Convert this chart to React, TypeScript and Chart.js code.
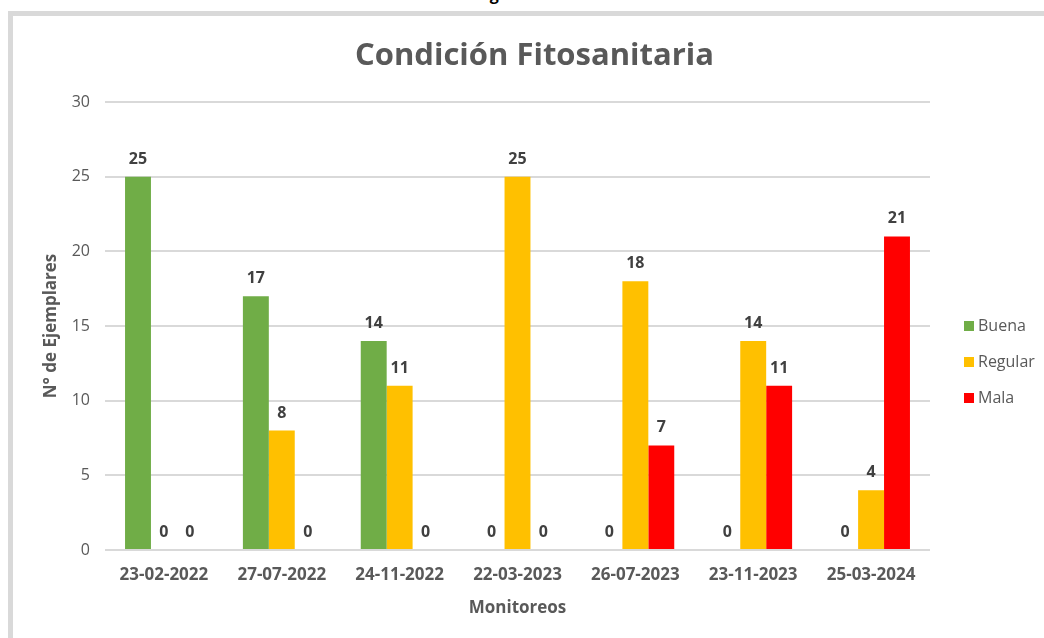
import React, { useEffect, useRef } from "react";
import { Chart, registerables } from "chart.js";

Chart.register(...registerables);

const categories = [
  "23-02-2022",
  "27-07-2022",
  "24-11-2022",
  "22-03-2023",
  "26-07-2023",
  "23-11-2023",
  "25-03-2024",
];
const buena = [25, 17, 14, 0, 0, 0, 0];
const regular = [0, 8, 11, 25, 18, 14, 4];
const mala = [0, 0, 0, 0, 7, 11, 21];
const seriesNames = ["Buena", "Regular", "Mala"];
const seriesColors = ["#70AD47", "#FFC000", "#FF0000"];
const yMin = 0;
const yMax = 30;
const yStep = 5;
const chartTitle = "Condición Fitosanitaria";

const FONT = "'Open Sans', sans-serif";
const GRAY = "#595959";

const dataLabelPlugin = {
  id: "dataLabels",
  afterDatasetsDraw(chart: any) {
    const ctx = chart.ctx;
    ctx.save();
    ctx.font = `bold 16px ${FONT}`;
    ctx.fillStyle = "#404040";
    ctx.textAlign = "center";
    ctx.textBaseline = "alphabetic";
    chart.data.datasets.forEach((ds: any, di: number) => {
      const meta = chart.getDatasetMeta(di);
      meta.data.forEach((el: any, i: number) => {
        ctx.fillText(String(ds.data[i]), el.x, el.y - 13);
      });
    });
    ctx.restore();
  },
};

const sideLegendPlugin = {
  id: "sideLegend",
  afterDraw(chart: any) {
    const ctx = chart.ctx;
    const area = chart.chartArea;
    const n = chart.data.datasets.length;
    const gap = 36;
    const midY = (area.top + area.bottom) / 2 + 36;
    ctx.save();
    ctx.font = `16px ${FONT}`;
    ctx.textBaseline = "middle";
    ctx.textAlign = "left";
    chart.data.datasets.forEach((ds: any, i: number) => {
      const y = midY + (i - (n - 1) / 2) * gap;
      ctx.fillStyle = ds.backgroundColor;
      ctx.fillRect(area.right + 34, y - 5, 10, 10);
      ctx.fillStyle = GRAY;
      ctx.fillText(ds.label, area.right + 48, y);
    });
    ctx.restore();
  },
};

const topTitlePlugin = {
  id: "topTitle",
  afterDraw(chart: any) {
    const ctx = chart.ctx;
    const area = chart.chartArea;
    ctx.save();
    ctx.font = `bold 31px ${FONT}`;
    ctx.fillStyle = GRAY;
    ctx.textAlign = "center";
    ctx.textBaseline = "middle";
    ctx.fillText(chartTitle, (area.left + area.right) / 2 + 17, area.top - 46);
    ctx.restore();
  },
};

export default function App() {
  const canvasRef = useRef<HTMLCanvasElement | null>(null);

  useEffect(() => {
    const canvas = canvasRef.current;
    if (!canvas) return;
    const seriesData = [buena, regular, mala];
    const chart = new Chart(canvas, {
      type: "bar",
      data: {
        labels: categories,
        datasets: seriesNames.map((name, i) => ({
          label: name,
          data: seriesData[i],
          backgroundColor: seriesColors[i],
          borderWidth: 0,
          barPercentage: 1,
          categoryPercentage: 0.66,
        })),
      },
      options: {
        responsive: false,
        animation: false,
        devicePixelRatio: 1,
        layout: { padding: { left: 36, right: 114, top: 102, bottom: 14 } },
        plugins: {
          legend: { display: false },
          tooltip: { enabled: false },
          title: { display: false },
        },
        scales: {
          x: {
            grid: { display: false, drawTicks: false },
            border: { display: false },
            ticks: {
              color: GRAY,
              font: { family: FONT, size: 17, weight: "bold" },
              padding: 15,
              maxRotation: 0,
            },
            title: {
              display: true,
              text: "Monitoreos",
              color: GRAY,
              font: { family: FONT, size: 17, weight: "bold" },
              padding: { top: 4, bottom: 6 },
            },
            afterFit(scale: any) {
              scale.height = 74;
            },
          },
          y: {
            min: yMin,
            max: yMax,
            grid: { color: "#d9d9d9", lineWidth: 2, drawTicks: false },
            border: { display: false },
            ticks: {
              stepSize: yStep,
              color: GRAY,
              font: { family: FONT, size: 16 },
              padding: 15,
            },
            title: {
              display: true,
              text: "N° de Ejemplares",
              color: GRAY,
              font: { family: FONT, size: 17, weight: "bold" },
              padding: { top: 5, bottom: 0 },
            },
            afterFit(scale: any) {
              scale.width = 69;
            },
          },
        },
      },
      plugins: [dataLabelPlugin, sideLegendPlugin, topTitlePlugin],
    });
    return () => chart.destroy();
  }, []);

  return (
    <div
      style={{
        position: "fixed",
        left: 0,
        top: 0,
        width: 1044,
        height: 638,
        overflow: "hidden",
        background: "#ffffff",
      }}
    >
      <div
        style={{
          position: "absolute",
          left: 476,
          top: -17,
          fontFamily: FONT,
          fontWeight: "bold",
          fontSize: 16,
          color: "#000000",
          whiteSpace: "nowrap",
        }}
      >
        Figura N° 6
      </div>
      <div
        style={{
          position: "absolute",
          left: 8,
          top: 11,
          width: 1060,
          height: 660,
          borderLeft: "5px solid #d9d9d9",
          borderTop: "5px solid #d9d9d9",
          boxSizing: "border-box",
        }}
      />
      <canvas
        ref={canvasRef}
        width={1044}
        height={638}
        style={{ position: "absolute", left: 0, top: 0, width: 1044, height: 638 }}
      />
    </div>
  );
}
